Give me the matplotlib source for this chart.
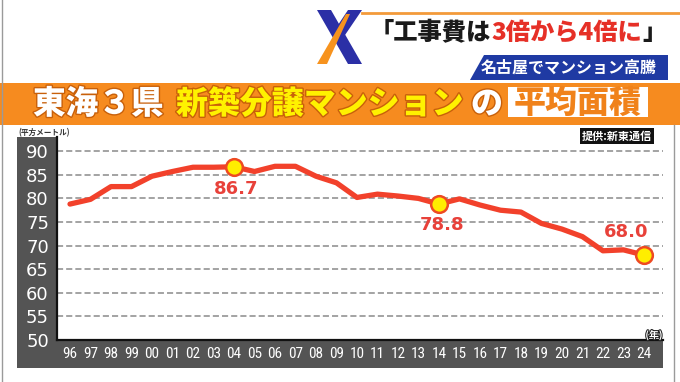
import matplotlib
matplotlib.use("Agg")
import matplotlib.pyplot as plt
import matplotlib.patches as mpatches
import matplotlib.patheffects as pe
import matplotlib.font_manager as fm

plt.rcParams['font.family'] = ['Noto Sans CJK JP', 'DejaVu Sans']

# data: average floor area of new condos in the 3 Tokai prefectures (m2)
years = ["96", "97", "98", "99", "00", "01", "02", "03", "04", "05",
         "06", "07", "08", "09", "10", "11", "12", "13", "14", "15",
         "16", "17", "18", "19", "20", "21", "22", "23", "24"]
area = [78.8, 79.8, 82.5, 82.5, 84.7, 85.7, 86.6, 86.6, 86.7, 85.7,
        86.8, 86.8, 84.7, 83.3, 80.2, 80.9, 80.5, 80.0, 78.8, 79.9,
        78.6, 77.5, 77.1, 74.7, 73.5, 71.9, 68.9, 69.1, 68.0]
highlight = ["04", "14", "24"]
y_ticks = [50, 55, 60, 65, 70, 75, 80, 85, 90]

W, H = 680, 382


def fx(x):
    return x / W


def fy(y):
    return 1 - y / H


names = {f.name for f in fm.fontManager.ttflist}
narrow = next((n for n in ["Roboto Condensed", "Liberation Sans Narrow",
                           "DejaVu Sans Condensed"] if n in names), "DejaVu Sans")

fig = plt.figure(figsize=(W / 100, H / 100), dpi=100)
fig.patch.set_facecolor("white")
renderer = fig.canvas.get_renderer()


def run(x, y, parts, size, weight="bold"):
    # draw text pieces one after another
    for txt, col in parts:
        t = fig.text(fx(x), fy(y), txt, color=col, fontsize=size, weight=weight,
                     ha="left", va="center")
        x += t.get_window_extent(renderer).width


def poly(points, col, z=-1):
    fig.add_artist(mpatches.Polygon([(fx(a), fy(b)) for a, b in points],
                                    closed=True, fc=col, ec="none", zorder=z,
                                    transform=fig.transFigure))


# frame lines
fig.add_artist(plt.Line2D([fx(2), fx(2)], [0, 1], color="#9a9a9a", lw=1))
fig.add_artist(plt.Line2D([fx(674), fx(674)], [fy(125), 0], color="#9a9a9a", lw=1))

# logo
blue = "#2b2fa6"
poly([(317, 10), (331, 10), (362, 64), (348, 64)], blue)
poly([(348, 10), (362, 10), (343, 38), (336, 28)], blue)
poly([(317, 64), (327, 64), (350, 14), (346, 14)], "#f7931e")
fig.add_artist(plt.Line2D([fx(362), 1], [fy(13), fy(13)], color="#f39a3a", lw=2))

# headline
run(370, 33, [("「工事費は", "#1a1a1a"), ("3倍から4倍に", "#e63027"), ("」", "#1a1a1a")],
    17.5, weight="heavy")

poly([(484, 55), (668, 55), (668, 80), (470, 80)], "#1f3aa3")
fig.text(fx(569), fy(67.5), "名古屋でマンション高騰", color="white", fontsize=11.5,
         weight="bold", ha="center", va="center")

# title band
poly([(0, 83), (W, 83), (W, 125), (0, 125)], "#f68b1f")
shadow = [pe.withStroke(linewidth=2, foreground="#c8600a")]
fig.text(fx(33), fy(104), "東海３県", color="white", fontsize=23.5, weight="heavy",
         ha="left", va="center", path_effects=shadow)
fig.text(fx(176), fy(104), "新築分譲マンション", color="#fff200", fontsize=23,
         weight="heavy", ha="left", va="center", path_effects=shadow)
fig.text(fx(471), fy(104), "の", color="white", fontsize=23, weight="heavy",
         ha="left", va="center", path_effects=shadow)
poly([(508, 87), (648, 87), (648, 117), (508, 117)], "white")
fig.text(fx(578), fy(103), "平均面積", color="#f0821a", fontsize=23, weight="heavy",
         ha="center", va="center")

# dark axis panels
panel = "#545454"
poly([(17, 137), (57, 137), (57, 368), (17, 368)], panel)
poly([(17, 340), (663, 340), (663, 368), (17, 368)], panel)

# plot
ax = fig.add_axes([fx(57), fy(340), fx(663) - fx(57), fy(137) - fy(340)])
ax.set_facecolor("white")
xs = list(range(len(years)))
ax.plot(xs, area, color="#f2412b", lw=3.8, solid_joinstyle="round",
        solid_capstyle="round", zorder=3)
hx = [years.index(y) for y in highlight]
hy = [area[i] for i in hx]
ax.plot(hx, hy, "o", ms=12, mfc="#ffee00", mec="#ee4a22", mew=1.8, zorder=4)

offsets = [(2, -22), (3, -21), (-18, 23)]
for i, v, off in zip(hx, hy, offsets):
    ax.annotate(f"{v:.1f}", (i, v), xytext=off, textcoords="offset pixels",
                ha="center", va="center", color="#e8413a", fontsize=13,
                weight="bold", family="DejaVu Sans", zorder=5)

ax.set_xlim(-0.634, 28.93)
ax.set_ylim(50, 50 + 203 / 4.72)
ax.set_xticks(xs)
ax.set_xticklabels(years, color="white", fontsize=11, family=narrow,
                   fontstretch="condensed")
ax.set_yticks(y_ticks)
ax.set_yticklabels([str(v) for v in y_ticks], color="white", fontsize=13,
                   family="DejaVu Sans")
for lab in ax.get_yticklabels():
    lab.set_ha("center")
ax.tick_params(axis="y", length=0, pad=14)
ax.tick_params(axis="x", length=0, pad=5)
ax.grid(axis="y", color="#8a8a8a", lw=1.1, ls=(0, (4, 2)))
ax.set_axisbelow(True)
for side in ["top", "right"]:
    ax.spines[side].set_visible(False)
for side in ["left", "bottom"]:
    ax.spines[side].set_color("#111111")
    ax.spines[side].set_linewidth(1.6)

fig.text(fx(18), fy(133), "(平方メートル)", color="#333333", fontsize=5.5,
         weight="bold", ha="left", va="center")
fig.text(fx(654), fy(335), "(年)", color="white", fontsize=7, weight="bold",
         ha="center", va="center",
         path_effects=[pe.withStroke(linewidth=1.5, foreground="#222222")])
fig.text(fx(617), fy(136), "提供:新東通信", color="white", fontsize=8, weight="bold",
         ha="center", va="center",
         bbox=dict(boxstyle="square,pad=0.15", fc="#111111", ec="none"))

fig.savefig("out.png", dpi=100, facecolor="white")
